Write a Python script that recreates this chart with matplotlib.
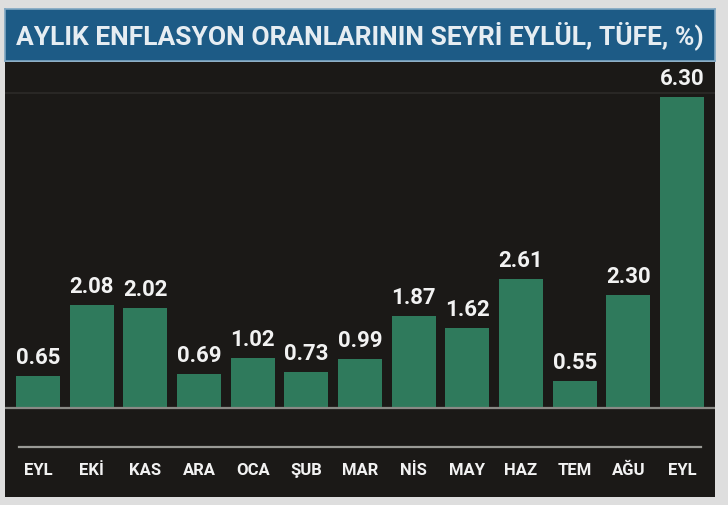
import matplotlib
matplotlib.use("Agg")
import matplotlib.pyplot as plt

# ---------- data ----------
MONTHS = ["EYL", "EKİ", "KAS", "ARA", "OCA", "ŞUB", "MAR",
          "NİS", "MAY", "HAZ", "TEM", "AĞU", "EYL"]
RATES = [0.65, 2.08, 2.02, 0.69, 1.02, 0.73, 0.99,
         1.87, 1.62, 2.61, 0.55, 2.30, 6.30]
TITLE = "AYLIK ENFLASYON ORANLARININ SEYRİ EYLÜL, TÜFE, %)"

# ---------- style ----------
BG_OUTER = "#dedede"
PANEL = "#1b1917"
BANNER = "#1d5b86"
BAR_GREEN = "#2f7a5c"
TEXT_LIGHT = "#f2f2f2"
FONT = ["Roboto", "DejaVu Sans"]

W, H = 728, 505
fig = plt.figure(figsize=(W / 100, H / 100), dpi=100, facecolor=BG_OUTER)


def px_axes(x0, y0, x1, y1):
    # pixel box (top-left origin) -> figure fraction axes
    return fig.add_axes([x0 / W, 1 - y1 / H, (x1 - x0) / W, (y1 - y0) / H])


# ---------- title banner ----------
axT = px_axes(5, 9, 715, 61)
axT.set_facecolor(BANNER)
axT.set_xticks([]); axT.set_yticks([])
for s in axT.spines.values():
    s.set_color("#7fa6c2"); s.set_linewidth(1.2)
t = axT.text(0.5, 0.48, TITLE, ha="center", va="center", color="#e6edf2",
             fontsize=24, fontweight="bold", family=FONT, transform=axT.transAxes)
fig.canvas.draw()
bb = t.get_window_extent()
t.set_fontsize(24 * 688 / bb.width)

# ---------- chart panel ----------
ax = px_axes(5, 62, 715, 497)
ax.set_facecolor(PANEL)
for s in ax.spines.values():
    s.set_visible(False)
ax.set_xticks([]); ax.set_yticks([])

n = len(RATES)
x = list(range(n))
ax.bar(x, RATES, width=0.82, color=BAR_GREEN, edgecolor="none", zorder=3)
ax.set_xlim(-0.615, n - 1 + 0.615)
ax.set_ylim(-1.80, 7.01)

# subtle top line and baseline / label divider
ax.axhline(6.38, color="#2c2a28", lw=1.2, zorder=1)
ax.axhline(0, color="#8a8a86", lw=1.6, zorder=4)
ax.axhline(-0.79, color="#9a9a96", lw=1.6, xmin=0.02, xmax=0.98, zorder=4)

for xi, v in zip(x, RATES):
    ax.annotate(f"{v:.2f}", (xi, v), xytext=(0, 5), textcoords="offset points",
                ha="center", va="bottom", color=TEXT_LIGHT, fontsize=16,
                fontweight="bold", family=FONT, zorder=5)

for xi, m in zip(x, MONTHS):
    ax.text(xi, -1.26, m, ha="center", va="center", color=TEXT_LIGHT,
            fontsize=12, fontweight="bold", family=FONT)

fig.savefig("out.png", dpi=100, facecolor=BG_OUTER)
